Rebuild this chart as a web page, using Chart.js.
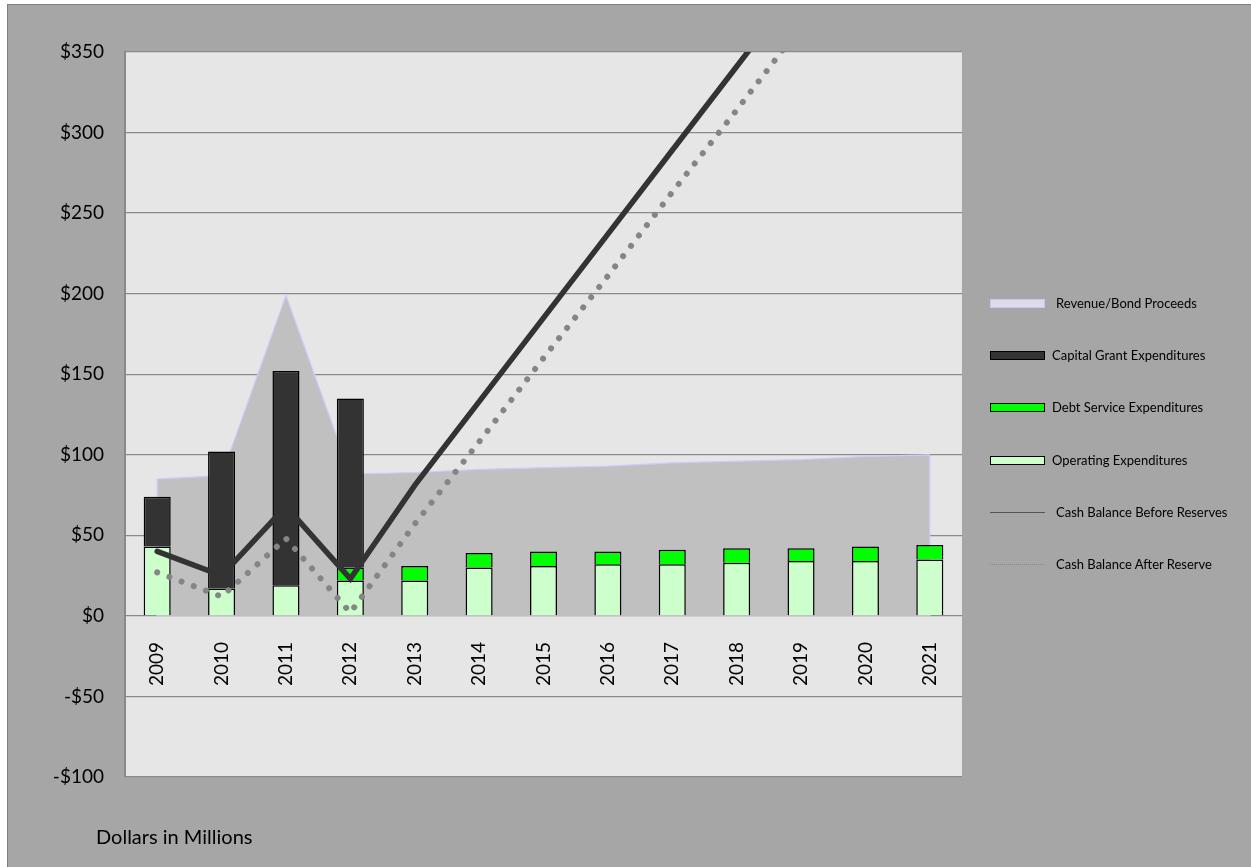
<!DOCTYPE html>
<html>
<head>
<meta charset="utf-8">
<title>Revenue, expenditures and cash balance</title>
<script src="https://cdn.jsdelivr.net/npm/chart.js@4.4.1/dist/chart.umd.min.js"></script>
<style>
html, body { margin: 0; padding: 0; background: #fff; overflow: hidden; }
body { width: 1251px; height: 867px; position: relative; font-family: Lato, "Open Sans", sans-serif; }
#frame { position: absolute; left: 7px; top: 4px; width: 1270px; height: 890px; background: #a6a6a6; border: 1px solid #7f7f7f; }
#wrap { position: absolute; left: 0; top: 0; width: 1251px; height: 867px; }
#legend { position: absolute; left: 990px; top: 0; width: 261px; height: 867px; }
.item { position: absolute; left: 0; height: 20px; width: 261px; }
.sw { position: absolute; left: 0; top: 6px; width: 55px; height: 9px; box-sizing: border-box; }
.txt { position: absolute; top: 1px; font-size: 13px; color: #000; white-space: nowrap; line-height: 18px; }
#units { position: absolute; left: 96px; top: 824px; font-size: 20px; color: #000; white-space: nowrap; }
</style>
</head>
<body>
<div id="frame"></div>
<div id="wrap"><canvas id="chart" width="1251" height="867"></canvas></div>
<div id="legend"></div>
<div id="units">Dollars in Millions</div>
<script>
/* data (millions of dollars) */
const years = ['2009', '2010', '2011', '2012', '2013', '2014', '2015', '2016', '2017', '2018', '2019', '2020', '2021'];
const revenue = [85, 87, 199, 88, 89, 91, 92, 93, 95, 96, 97, 99, 100];
const operating = [43, 17, 19, 22, 22, 30, 31, 32, 32, 33, 34, 34, 35];
const debtService = [null, null, null, 8, 9, 9, 9, 8, 9, 9, 8, 9, 9];
const capitalGrant = [31, 85, 133, 105, null, null, null, null, null, null, null, null, null];
const cashBefore = [40, 25, 68, 23, 81, 133, 185, 237, 289, 341, 393, 445, 497];
const cashAfter = [27, 12, 48, 2, 57, 108, 160, 211, 263, 314, 366, 417, 469];
const yTicks = { min: -100, max: 350, step: 50 };

Chart.defaults.font.family = 'Lato, "Open Sans", sans-serif';

/* light plot background */
const plotBg = {
  id: 'plotBg',
  beforeDraw(chart) {
    const { ctx, chartArea: a } = chart;
    ctx.save();
    ctx.fillStyle = '#e6e6e6';
    ctx.fillRect(a.left, a.top, a.right - a.left, a.bottom - a.top);
    ctx.restore();
  }
};

/* Excel closes the area with vertical edges at both ends */
const areaEdges = {
  id: 'areaEdges',
  afterDatasetDraw(chart, args) {
    if (args.index !== 0) return;
    const pts = args.meta.data;
    const y0 = chart.scales.y.getPixelForValue(0);
    const ctx = chart.ctx;
    ctx.save();
    ctx.strokeStyle = '#ccccff';
    ctx.lineWidth = 1.2;
    [pts[0], pts[pts.length - 1]].forEach(p => {
      ctx.beginPath();
      ctx.moveTo(p.x, p.y);
      ctx.lineTo(p.x, y0);
      ctx.stroke();
    });
    ctx.restore();
  }
};

const barStyle = { stack: 'exp', borderColor: '#000', borderWidth: 1.5, barPercentage: 0.42, categoryPercentage: 1, order: 5 };

const chart = new Chart(document.getElementById('chart'), {
  type: 'bar',
  data: {
    labels: years,
    datasets: [
      { type: 'line', label: 'Revenue/Bond Proceeds', data: revenue, stack: 'rev', fill: 'origin',
        backgroundColor: '#c0c0c0', borderColor: '#ccccff', borderWidth: 1.2, pointRadius: 0, tension: 0, order: 10 },
      Object.assign({ label: 'Operating Expenditures', data: operating, backgroundColor: '#ccffcc' }, barStyle),
      Object.assign({ label: 'Debt Service Expenditures', data: debtService, backgroundColor: '#00ff00' }, barStyle),
      Object.assign({ label: 'Capital Grant Expenditures', data: capitalGrant, backgroundColor: '#333333' }, barStyle),
      { type: 'line', label: 'Cash Balance Before Reserves', data: cashBefore, stack: 'cb', fill: false,
        borderColor: '#333333', borderWidth: 5.5, borderJoinStyle: 'miter', borderCapStyle: 'round', pointRadius: 0, tension: 0, order: 2 },
      { type: 'line', label: 'Cash Balance After Reserve', data: cashAfter, stack: 'ca', fill: false,
        borderColor: '#858585', borderWidth: 6, borderDash: [0.01, 13], borderCapStyle: 'round', pointRadius: 0, tension: 0, order: 1 }
    ]
  },
  options: {
    responsive: false,
    animation: false,
    layout: { padding: { left: 0, top: 52, right: 289, bottom: 90 } },
    plugins: { legend: { display: false }, tooltip: { enabled: false } },
    scales: {
      x: {
        stacked: true,
        position: { y: 0 },
        grid: { display: false },
        border: { display: false },
        ticks: { minRotation: 90, maxRotation: 90, autoSkip: false, padding: 18, color: '#000', font: { size: 19 } }
      },
      y: {
        stacked: true,
        min: yTicks.min,
        max: yTicks.max,
        afterFit(scale) { scale.width = 125; },
        ticks: {
          stepSize: yTicks.step, padding: 21, color: '#000', font: { size: 19 },
          callback: v => (v < 0 ? '-$' + (-v) : '$' + v)
        },
        grid: { color: '#8a8a8a', lineWidth: 1.3, drawTicks: false },
        border: { color: '#8a8a8a', width: 2 }
      }
    }
  },
  plugins: [plotBg, areaEdges]
});

/* legend on the right, same order as the original */
const legendEntries = [
  { label: 'Revenue/Bond Proceeds', sw: 'background:#dcdce8;border:1.5px solid #c8c8f4;', dx: 66 },
  { label: 'Capital Grant Expenditures', sw: 'background:#333;border:1.5px solid #000;', dx: 62 },
  { label: 'Debt Service Expenditures', sw: 'background:#00ff00;border:1.5px solid #000;', dx: 62 },
  { label: 'Operating Expenditures', sw: 'background:#ccffcc;border:1.5px solid #000;', dx: 62 },
  { label: 'Cash Balance Before Reserves', sw: 'top:10px;height:1.5px;background:#555;', dx: 66 },
  { label: 'Cash Balance After Reserve', sw: 'top:10px;height:0;border-top:1px dotted #888;', dx: 66 }
];
const legend = document.getElementById('legend');
legendEntries.forEach((e, i) => {
  const item = document.createElement('div');
  item.className = 'item';
  item.style.top = (293 + i * 52.2) + 'px';
  item.innerHTML = '<div class="sw" style="' + e.sw + '"></div><div class="txt" style="left:' + e.dx + 'px">' + e.label + '</div>';
  legend.appendChild(item);
});
</script>
</body>
</html>
